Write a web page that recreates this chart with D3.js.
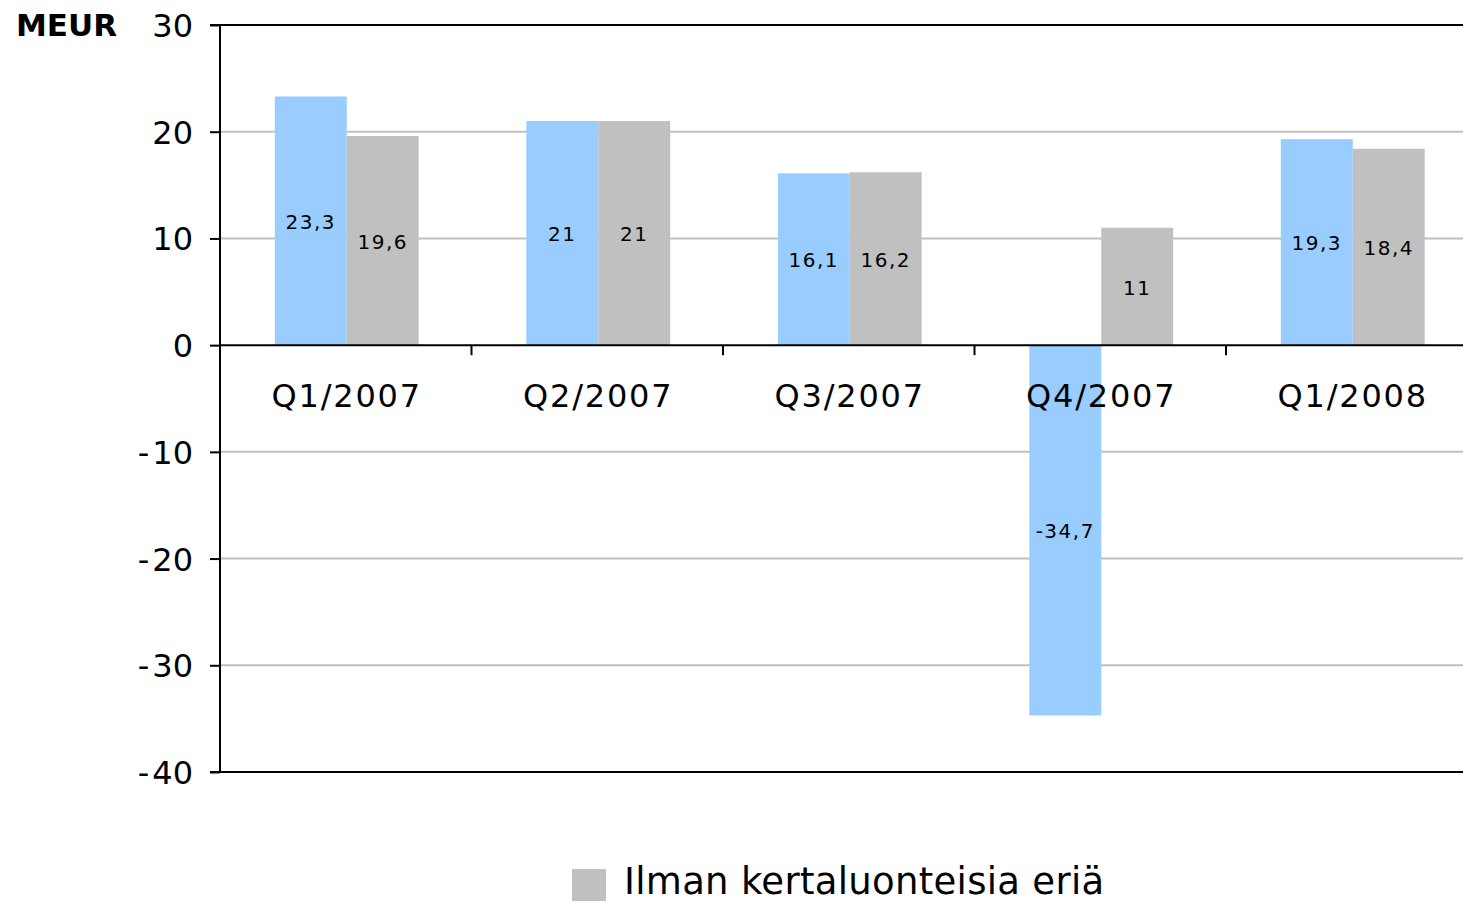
<!DOCTYPE html>
<html><head><meta charset="utf-8">
<script src="https://cdn.jsdelivr.net/npm/d3@7"></script>
<style>body{margin:0;background:#fff}svg{display:block}</style>
</head><body>
<svg id="c" width="1463" height="903"></svg>
<script>
const categories = ["Q1/2007", "Q2/2007", "Q3/2007", "Q4/2007", "Q1/2008"];
const seriesReported = [23.3, 21, 16.1, -34.7, 19.3];
const seriesExcl = [19.6, 21, 16.2, 11, 18.4];
const yTicks = [30, 20, 10, 0, -10, -20, -30, -40];
const legendLabel = "Ilman kertaluonteisia eriä";
const unitLabel = "MEUR";

(function () {
const svg = d3.select("#c");
const pL = 220, pR = 1477.5, pT = 25, pB = 772;
const y = d3.scaleLinear().domain([-40, 30]).range([pB, pT]);
const x = d3.scaleBand().domain(categories).range([pL, pR]).paddingInner(0.428).paddingOuter(0.214);
const xs = d3.scaleBand().domain([0, 1]).range([0, x.bandwidth()]);
const loc = d3.formatLocale({decimal: ",", thousands: " ", grouping: [3], currency: ["", ""], minus: "-"});
const fmt = loc.format("~g");
const font = "'DejaVu Sans', Verdana, sans-serif";

// gridlines
svg.append("g").selectAll("line").data(yTicks.filter(d => d !== 0 && d !== 30 && d !== -40)).join("line")
  .attr("x1", pL).attr("x2", pR).attr("y1", d => y(d)).attr("y2", d => y(d))
  .attr("stroke", "#c0c0c0").attr("stroke-width", 2);

// frame
svg.append("line").attr("x1", pL).attr("x2", pR).attr("y1", y(30)).attr("y2", y(30)).attr("stroke", "#000").attr("stroke-width", 2);
svg.append("line").attr("x1", pL).attr("x2", pR).attr("y1", y(-40)).attr("y2", y(-40)).attr("stroke", "#000").attr("stroke-width", 2);

const data = categories.map((c, i) => ({c, vals: [seriesReported[i], seriesExcl[i]]}));
const colors = ["#99ccff", "#c0c0c0"];

const g = svg.append("g");
data.forEach(d => {
  d.vals.forEach((v, k) => {
    g.append("rect")
      .attr("x", x(d.c) + xs(k) + 1).attr("width", xs.bandwidth())
      .attr("y", y(Math.max(0, v))).attr("height", Math.abs(y(v) - y(0)))
      .attr("fill", colors[k]);
  });
});

// y axis
const yAxis = d3.axisLeft(y).tickValues(yTicks).tickSize(10).tickFormat(fmt);
const ya = svg.append("g").attr("transform", `translate(${pL},0)`).call(yAxis);
ya.select(".domain").attr("stroke", "#000").attr("stroke-width", 2).attr("d", `M-10,${y(30)}H0V${y(-40)}H-10`);
ya.selectAll(".tick line").attr("stroke", "#000").attr("stroke-width", 2);
ya.selectAll(".tick text").attr("x", -27).attr("dy", "0.36em")
  .style("font-family", font).style("font-size", "32px").attr("fill", "#000")
  .each(function (d) {
    if (d < 0) {
      const t = d3.select(this);
      const s = fmt(d);
      t.text(null);
      t.append("tspan").text("-");
      t.append("tspan").attr("dx", 3).text(s.slice(1));
    }
  });

// x axis at zero
const xAxis = d3.axisBottom(x).tickSize(0).tickSizeOuter(0);
const xa = svg.append("g").attr("transform", `translate(1,${y(0)})`).call(xAxis);
xa.select(".domain").attr("stroke", "#000").attr("stroke-width", 2).attr("d", `M${pL - 1},0H${pR}`);
xa.selectAll(".tick text").attr("y", 62).attr("dy", 0)
  .style("font-family", font).style("font-size", "32px").style("letter-spacing", "1.8px").attr("fill", "#000");
// category separator ticks
const step = x.step();
svg.append("g").selectAll("line").data(categories.slice(1)).join("line")
  .attr("x1", d => x(d) - x.paddingInner() * step / 2).attr("x2", d => x(d) - x.paddingInner() * step / 2)
  .attr("y1", y(0)).attr("y2", y(0) + 10).attr("stroke", "#000").attr("stroke-width", 2);

// data labels
data.forEach(d => {
  d.vals.forEach((v, k) => {
    g.append("text")
      .attr("x", x(d.c) + xs(k) + xs.bandwidth() / 2 + 1)
      .attr("y", (y(v) + y(0)) / 2 + 1).attr("dy", "0.36em")
      .attr("text-anchor", "middle")
      .style("font-family", font).style("font-size", "20px")
      .style("letter-spacing", "1.5px")
      .text(fmt(v));
  });
});

// unit label
svg.append("text").attr("x", 16).attr("y", 36).text(unitLabel)
  .style("font-family", font).style("font-weight", "bold").style("font-size", "31px");

// legend
svg.append("rect").attr("x", 572).attr("y", 869).attr("width", 34).attr("height", 32).attr("fill", "#c0c0c0");
svg.append("text").attr("x", 624).attr("y", 894).text(legendLabel)
  .style("font-family", font).style("font-size", "37px").style("letter-spacing", "0.3px");
})();
</script>
</body></html>
